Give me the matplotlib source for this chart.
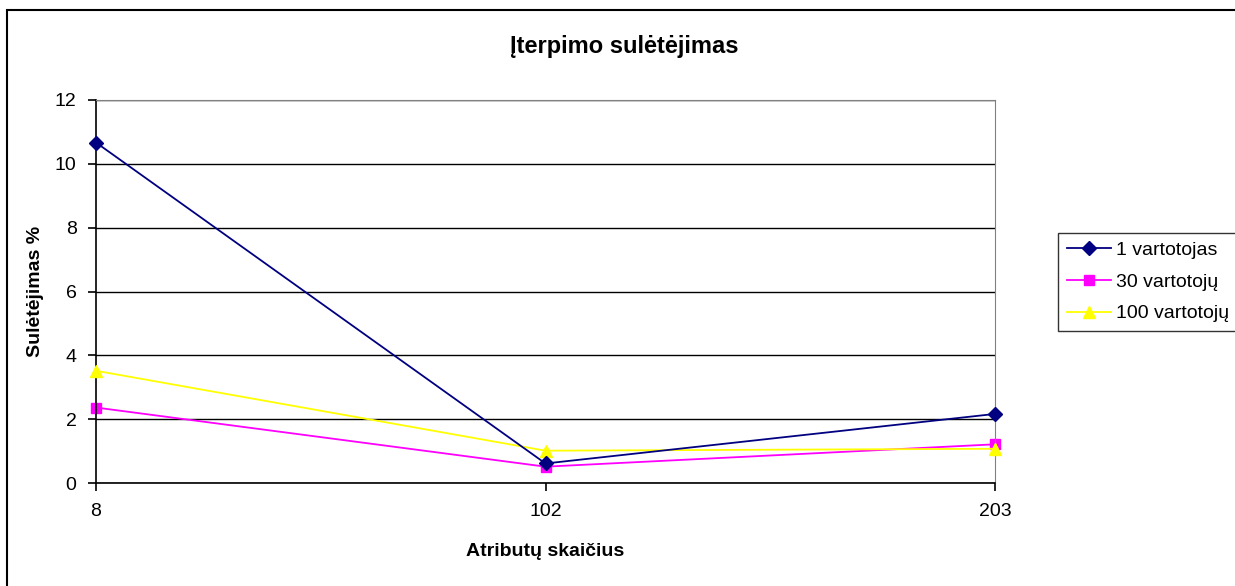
import matplotlib
matplotlib.use("Agg")
import matplotlib.pyplot as plt
from matplotlib.patches import Rectangle

plt.rcParams['font.family'] = ['Liberation Sans', 'DejaVu Sans']

# Data
attributes = ['8', '102', '203']
user_1 = [10.66, 0.62, 2.17]
user_30 = [2.37, 0.52, 1.22]
user_100 = [3.52, 1.02, 1.08]

W, H = 1235, 586
fig = plt.figure(figsize=(W / 100, H / 100), dpi=100)
fig.patch.set_facecolor('white')

# outer chart frame
fig.patches.append(Rectangle((7 / W, -0.05), 1.2, (H - 10) / H + 0.05,
                             transform=fig.transFigure, fill=False,
                             edgecolor='black', linewidth=1.5))

ax = fig.add_axes([96 / W, (H - 483.3) / H, (995 - 96) / W, (483.3 - 99.7) / H])
x = list(range(len(attributes)))

ax.plot(x, user_1, color='#000080', marker='D', markersize=7, linewidth=1.3,
        label='1 vartotojas', zorder=4, clip_on=False)
ax.plot(x, user_30, color='#FF00FF', marker='s', markersize=7, linewidth=1.3,
        label='30 vartotojų', zorder=2, clip_on=False)
ax.plot(x, user_100, color='#FFFF00', marker='^', markersize=9, linewidth=1.3,
        label='100 vartotojų', zorder=3, clip_on=False)

ax.set_xlim(0, 2)
ax.set_ylim(0, 12)
ax.set_xticks(x)
ax.set_xticklabels(attributes)
ax.set_yticks(range(0, 13, 2))
ax.yaxis.grid(True, color='black', linewidth=1)
ax.set_axisbelow(True)

ax.spines['top'].set_color('#808080')
ax.spines['right'].set_color('#808080')
ax.spines['left'].set_linewidth(1.2)
ax.spines['bottom'].set_linewidth(1.2)
ax.tick_params(axis='both', direction='out', length=6, width=1.2,
               labelsize=14, pad=8)

# titles placed in figure pixels
fig.text(624 / W, 1 - 46 / H, 'Įterpimo sulėtėjimas', fontsize=17,
         fontweight='bold', ha='center', va='center')
fig.text(545 / W, 1 - 551 / H, 'Atributų skaičius', fontsize=14,
         fontweight='bold', ha='center', va='center')
fig.text(35 / W, 1 - 291 / H, 'Sulėtėjimas %', fontsize=14,
         fontweight='bold', ha='center', va='center', rotation=90)

leg = ax.legend(loc='center left', bbox_to_anchor=(1058 / W, 1 - 282 / H),
                bbox_transform=fig.transFigure, fontsize=14, frameon=True,
                fancybox=False, edgecolor='black', borderpad=0.45,
                handlelength=2.3, labelspacing=0.72, handletextpad=0.25,
                borderaxespad=0)
leg.get_frame().set_linewidth(1)

fig.savefig('out.png', dpi=100)
